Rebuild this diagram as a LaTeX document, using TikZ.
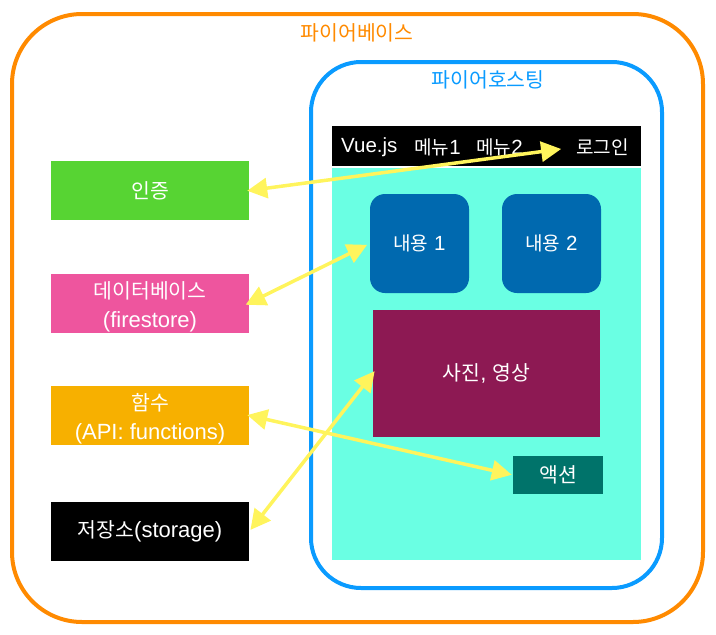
\documentclass[tikz,border=0pt]{standalone}
\usepackage{fontspec}
\setmainfont{Liberation Sans}
\newfontfamily\kr[Scale=0.93]{Noto Sans CJK KR}
\usetikzlibrary{arrows.meta,positioning}
\definecolor{baseOrange}{HTML}{FF8A00}
\definecolor{hostBlue}{HTML}{0A9BFF}
\definecolor{pageCyan}{HTML}{6AFFE3}
\definecolor{contentBlue}{HTML}{0069AF}
\definecolor{photoPurple}{HTML}{8D1953}
\definecolor{actionTeal}{HTML}{00736A}
\definecolor{authGreen}{HTML}{57D433}
\definecolor{dbPink}{HTML}{EE559E}
\definecolor{funcOrange}{HTML}{F7B000}
\definecolor{linkYellow}{HTML}{FFF45C}
\newcommand{\padtop}{\rule{0pt}{24pt}}

\begin{document}
\begin{tikzpicture}[x=1pt,y=-1pt]
			\tikzstyle{every node}+=[inner sep=0pt,text=white,font=\fontsize{22}{29}\selectfont]
			\tikzstyle{small text}=[font=\fontsize{20.5}{25}\selectfont]
			\tikzstyle{side box}=[minimum width=198pt,minimum height=59pt,align=center]
			\tikzstyle{content box}=[small text,fill=contentBlue,minimum size=99pt,rounded corners=15pt]
			\tikzstyle{link}=[draw=linkYellow,line width=3.5pt,{Triangle[length=20pt,width=20pt]}-{Triangle[length=20pt,width=20pt]}]
			\useasboundingbox (0,0) rectangle (716,635);
			% frames
			\draw [baseOrange,line width=4pt,rounded corners=70pt] (12,14) rectangle (703,622);
			\node [text=baseOrange] (base title) at (357,33) {\kr 파이어베이스};
			\draw [hostBlue,line width=4pt,rounded corners=50pt] (311,62) rectangle (662,588);
			\node [text=hostBlue] (host title) at (488,80) {\kr 파이어호스팅};
			% web page
			\fill [black] (332,126) rectangle (641,166);
			\fill [pageCyan] (332,168) rectangle (641,560);
			\node [small text,anchor=west] (vue) at (341,147) {Vue.js};
			\node [small text,anchor=west] (menu1) at (414,147) {{\kr 메뉴}1};
			\node [small text,anchor=west] (menu2) at (476,147) {{\kr 메뉴}2};
			\node [small text,anchor=west] (login) at (576,147) {\kr 로그인};
			\node [content box] (content1) at (419.5,243.5) {{\kr 내용} 1};
			\node [content box] (content2) at (551.5,243.5) {{\kr 내용} 2};
			\node [fill=photoPurple,minimum width=227pt,minimum height=127pt] (photo) at (486.5,373.5) {{\kr 사진}, {\kr 영상}};
			\node [fill=actionTeal,minimum width=90pt,minimum height=38pt] (action) at (558,475) {\kr 액션};
			% services
			\node [side box,fill=authGreen] (auth) at (150,190.5) {{\kr 인증}};
			\node [side box,fill=dbPink] (db) at (150,303) {\padtop{\kr 데이터베이스}\\(firestore)};
			\node [side box,fill=funcOrange] (func) at (150,415.5) {\padtop{\kr 함수}\\(API: functions)};
			\node [side box,fill=black] (storage) at (150,531.5) {{\kr 저장소}(storage)};
			% links
			\draw [link,shorten <=-2pt,shorten >=15pt] (auth.east) -- (login.west);
			\draw [link,shorten <=-4pt,shorten >=3pt] (db.east) -- (content1.west);
			\draw [link,shorten <=-2pt,shorten >=1pt] (func.east) -- (action.west);
			\draw [link,shorten <=2pt,shorten >=-3pt] (storage.east) -- (photo.west);
\end{tikzpicture}
\end{document}
